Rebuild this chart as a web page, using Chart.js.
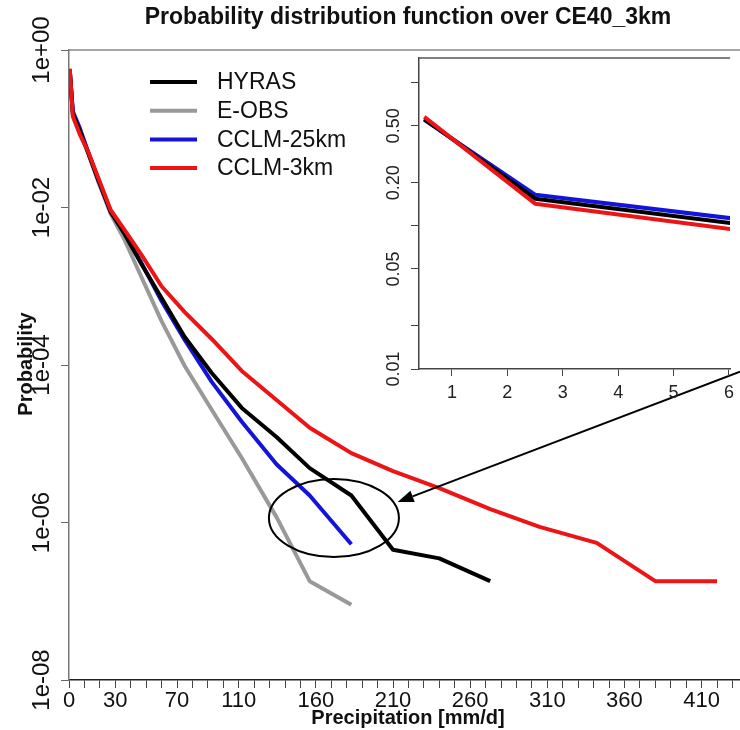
<!DOCTYPE html>
<html>
<head>
<meta charset="utf-8">
<script src="https://cdn.jsdelivr.net/npm/chart.js@4"></script>
<style>
  body { margin: 0; background: #fff; }
  #wrap { position: relative; width: 740px; height: 730px; }
  #main-chart { position: absolute; left: 0; top: 0; }
  #inset-chart { position: absolute; left: 360px; top: 40px; }
</style>
</head>
<body>
<div id="wrap">
  <canvas id="main-chart" width="740" height="730"></canvas>
  <canvas id="inset-chart" width="380" height="370"></canvas>
</div>
<script>
// bin centres (mm/d) and probabilities
const precipBins = [0.5, 2.5, 7, 12.5, 19, 27, 36, 47, 60, 75, 92.5, 112, 134.5, 156, 183, 210, 240, 273, 305, 342, 380, 420];

const hyras = [0.56, 0.155, 0.094, 0.049, 0.0223, 0.0088, 0.0046, 0.0019, 7.1e-4, 2.27e-4, 7.9e-5, 2.85e-5, 1.22e-5, 4.9e-6, 2.2e-6, 4.5e-7, 3.5e-7, 1.8e-7];
const eobs = [0.56, 0.15, 0.09, 0.048, 0.0211, 0.0083, 0.0039, 0.0013, 3.6e-4, 9.7e-5, 2.7e-5, 6.6e-6, 1.17e-6, 1.8e-7, 9e-8];
const cclm25 = [0.55, 0.165, 0.102, 0.05, 0.0225, 0.0089, 0.00475, 0.00197, 6.5e-4, 2.08e-4, 6.1e-5, 1.9e-5, 5.5e-6, 2.2e-6, 5.3e-7];
const cclm3 = [0.578, 0.143, 0.085, 0.0507, 0.0237, 0.0093, 0.0052, 0.0025, 1.0e-3, 4.7e-4, 2.14e-4, 8.4e-5, 3.6e-5, 1.6e-5, 7.6e-6, 4.5e-6, 2.74e-6, 1.48e-6, 8.8e-7, 5.5e-7, 1.8e-7, 1.8e-7];

const seriesNames = ["HYRAS", "E-OBS", "CCLM-25km", "CCLM-3km"];
const seriesColors = ["#000000", "#999999", "#1414d8", "#ec1414"];

const xTickLabels = [0, 30, 70, 110, 160, 210, 260, 310, 360, 410];
const yTickValues = [1, 1e-2, 1e-4, 1e-6, 1e-8];

const insetYTicks = [0.01, 0.02, 0.05, 0.1, 0.2, 0.5, 1];
const insetYLabels = [0.01, 0.05, 0.2, 0.5];
const insetPoints = 3;

const FONT = "'Liberation Sans', Arial, sans-serif";

function toPoints(values) {
  return values.map(function(v, i) {
    return { x: precipBins[i], y: v };
  });
}

function rFormat(v) {
  const e = Math.round(Math.log10(v));
  const sign = e < 0 ? "-" : "+";
  const abs = Math.abs(e);
  return "1e" + sign + (abs < 10 ? "0" + abs : abs);
}

const allSeries = [hyras, eobs, cclm25, cclm3];
// red drawn on top, then black, blue, grey
const drawOrder = [1, 3, 2, 0];

const mainDatasets = allSeries.map(function(values, i) {
  return {
    label: seriesNames[i],
    data: toPoints(values),
    borderColor: seriesColors[i],
    backgroundColor: seriesColors[i],
    order: drawOrder[i]
  };
});

const mainDecor = {
  id: "mainDecor",
  afterDraw: function(chart) {
    const ctx = chart.ctx;
    const area = chart.chartArea;
    const xs = chart.scales.x;
    const ys = chart.scales.y;

    ctx.save();

    // top frame line
    ctx.strokeStyle = "#888";
    ctx.lineWidth = 1.5;
    ctx.beginPath();
    ctx.moveTo(area.left, area.top);
    ctx.lineTo(area.right, area.top);
    ctx.stroke();

    // title
    ctx.fillStyle = "#111";
    ctx.textAlign = "center";
    ctx.textBaseline = "middle";
    ctx.font = "bold 23px " + FONT;
    ctx.fillText("Probability distribution function over CE40_3km", 408, 18);

    // x axis title
    ctx.font = "bold 20px " + FONT;
    ctx.fillText("Precipitation [mm/d]", 408, 718);

    // y axis title
    ctx.save();
    ctx.translate(26, 364);
    ctx.rotate(-Math.PI / 2);
    ctx.fillText("Probability", 0, 0);
    ctx.restore();

    // rotated y tick labels
    ctx.font = "24px " + FONT;
    yTickValues.forEach(function(v) {
      ctx.save();
      ctx.translate(42, ys.getPixelForValue(v));
      ctx.rotate(-Math.PI / 2);
      ctx.fillText(rFormat(v), 0, 0);
      ctx.restore();
    });

    // legend
    ctx.font = "23px " + FONT;
    ctx.textAlign = "left";
    chart.data.datasets.forEach(function(ds, i) {
      const y = 82 + i * 28.7;
      ctx.strokeStyle = ds.borderColor;
      ctx.lineWidth = 4;
      ctx.beginPath();
      ctx.moveTo(150, y);
      ctx.lineTo(197, y);
      ctx.stroke();
      ctx.fillStyle = "#111";
      ctx.fillText(ds.label, 217, y + 1);
    });

    // ellipse around the tails
    const cx = xs.getPixelForValue(171.7);
    const cy = ys.getPixelForValue(1.14e-6);
    ctx.strokeStyle = "#000";
    ctx.lineWidth = 2;
    ctx.beginPath();
    ctx.ellipse(cx, cy, 65, 39, 0, 0, Math.PI * 2);
    ctx.stroke();

    // arrow from the inset to the ellipse
    const x0 = xs.getPixelForValue(434.9);
    const y0 = ys.getPixelForValue(8.2e-5);
    const x1 = xs.getPixelForValue(213);
    const y1 = ys.getPixelForValue(1.82e-6);
    const ang = Math.atan2(y1 - y0, x1 - x0);
    const headLen = 16;
    const headW = 6;
    const bx = x1 - headLen * Math.cos(ang);
    const by = y1 - headLen * Math.sin(ang);
    ctx.beginPath();
    ctx.moveTo(x0, y0);
    ctx.lineTo(bx, by);
    ctx.stroke();
    ctx.fillStyle = "#000";
    ctx.beginPath();
    ctx.moveTo(x1, y1);
    ctx.lineTo(bx + headW * Math.sin(ang), by - headW * Math.cos(ang));
    ctx.lineTo(bx - headW * Math.sin(ang), by + headW * Math.cos(ang));
    ctx.closePath();
    ctx.fill();

    ctx.restore();
  }
};

new Chart(document.getElementById("main-chart"), {
  type: "line",
  data: { datasets: mainDatasets },
  options: {
    responsive: false,
    animation: false,
    layout: { padding: { top: 50, right: 0, bottom: 0, left: 0 } },
    plugins: {
      legend: { display: false },
      title: { display: false },
      tooltip: { enabled: false }
    },
    elements: {
      point: { radius: 0 },
      line: { tension: 0, borderWidth: 4, borderJoinStyle: "round", borderCapStyle: "butt" }
    },
    scales: {
      x: {
        type: "linear",
        min: 0,
        max: 434.9,
        afterFit: function(scale) { scale.height = 50; },
        grid: { drawOnChartArea: false, tickLength: 8, color: "#444" },
        border: { color: "#222", width: 1.5 },
        ticks: {
          stepSize: 10,
          includeBounds: false,
          autoSkip: false,
          maxRotation: 0,
          minRotation: 0,
          padding: 0,
          color: "#111",
          font: { family: FONT, size: 22 },
          callback: function(value) {
            const v = Math.round(value);
            return xTickLabels.includes(v) ? String(v) : "";
          }
        }
      },
      y: {
        type: "logarithmic",
        min: 1e-8,
        max: 1,
        afterBuildTicks: function(scale) {
          scale.ticks = yTickValues.map(function(v) { return { value: v }; });
        },
        afterFit: function(scale) { scale.width = 69; },
        grid: { drawOnChartArea: false, tickLength: 8, color: "#666" },
        border: { color: "#777", width: 1.5 },
        ticks: { display: false }
      }
    }
  },
  plugins: [mainDecor]
});

// inset: first bins of three of the series
const insetIdx = [0, 2, 3];

const insetDatasets = insetIdx.map(function(i) {
  return {
    label: seriesNames[i],
    data: toPoints(allSeries[i].slice(0, insetPoints)),
    borderColor: seriesColors[i],
    order: drawOrder[i]
  };
});

const insetDecor = {
  id: "insetDecor",
  beforeDraw: function(chart) {
    const ctx = chart.ctx;
    const a = chart.chartArea;
    ctx.save();
    ctx.fillStyle = "#fff";
    ctx.fillRect(a.left, a.top, a.right - a.left, a.bottom - a.top);
    ctx.restore();
  },
  afterDraw: function(chart) {
    const ctx = chart.ctx;
    const a = chart.chartArea;
    const ys = chart.scales.y;
    ctx.save();
    ctx.strokeStyle = "#555";
    ctx.lineWidth = 1.5;
    ctx.beginPath();
    ctx.moveTo(a.left, a.top);
    ctx.lineTo(a.right, a.top);
    ctx.stroke();

    ctx.fillStyle = "#222";
    ctx.font = "18px " + FONT;
    ctx.textAlign = "center";
    ctx.textBaseline = "middle";
    insetYLabels.forEach(function(v) {
      ctx.save();
      ctx.translate(34, ys.getPixelForValue(v));
      ctx.rotate(-Math.PI / 2);
      ctx.fillText(v.toFixed(2), 0, 0);
      ctx.restore();
    });
    ctx.restore();
  }
};

new Chart(document.getElementById("inset-chart"), {
  type: "line",
  data: { datasets: insetDatasets },
  options: {
    responsive: false,
    animation: false,
    layout: { padding: { top: 18, right: 0, bottom: 0, left: 0 } },
    plugins: {
      legend: { display: false },
      title: { display: false },
      tooltip: { enabled: false }
    },
    elements: {
      point: { radius: 0 },
      line: { tension: 0, borderWidth: 4, borderJoinStyle: "round" }
    },
    scales: {
      x: {
        type: "linear",
        min: 0.405,
        max: 6.02,
        afterFit: function(scale) { scale.height = 41; },
        grid: { drawOnChartArea: false, tickLength: 7, color: "#444" },
        border: { color: "#444", width: 1.5 },
        ticks: {
          stepSize: 1,
          includeBounds: false,
          autoSkip: false,
          maxRotation: 0,
          padding: 6,
          color: "#222",
          font: { family: FONT, size: 18 }
        }
      },
      y: {
        type: "logarithmic",
        min: 0.01,
        max: 1.49,
        afterBuildTicks: function(scale) {
          scale.ticks = insetYTicks.map(function(v) { return { value: v }; });
        },
        afterFit: function(scale) { scale.width = 59; },
        grid: { drawOnChartArea: false, tickLength: 8, color: "#444" },
        border: { color: "#444", width: 1.5 },
        ticks: { display: false }
      }
    }
  },
  plugins: [insetDecor]
});
</script>
</body>
</html>
